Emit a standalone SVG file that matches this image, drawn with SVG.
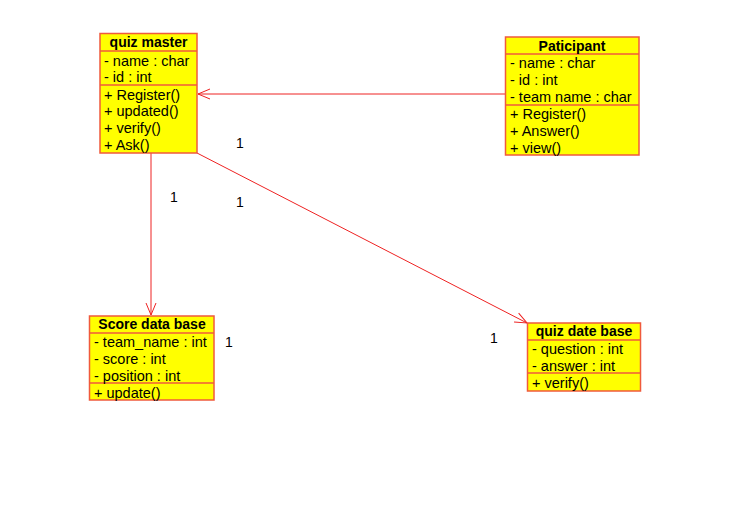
<svg xmlns="http://www.w3.org/2000/svg" width="754" height="517" viewBox="0 0 754 517">
<style>
.box{fill:#ffff00;stroke:#f05a3c;stroke-width:1.5}
.div{stroke:#f05a3c;stroke-width:1.5}
.t{font-family:"Liberation Sans",Arial,sans-serif;font-size:14.5px;fill:#000}
.b{font-weight:bold;text-anchor:middle;font-size:14px}
.c{stroke:#ee2222;stroke-width:1;fill:none}
.m{font-family:"Liberation Sans",Arial,sans-serif;font-size:14px;fill:#000}
</style>
<defs>
<marker id="arr" markerWidth="14" markerHeight="12" refX="13" refY="6" orient="auto" markerUnits="userSpaceOnUse">
<path d="M1,1 L13,6 L1,11" fill="none" stroke="#ee2222" stroke-width="1"/>
</marker>
</defs>
<rect width="754" height="517" fill="#fff"/>
<g id="connectors">
<line class="c" x1="505" y1="94" x2="198" y2="94" marker-end="url(#arr)"/>
<line class="c" x1="151" y1="153" x2="151" y2="315" marker-end="url(#arr)"/>
<line class="c" x1="197" y1="153" x2="527" y2="323" marker-end="url(#arr)"/>
</g>
<g id="quiz-master">
<rect class="box" x="100" y="33.5" width="97" height="119.5"/>
<line class="div" x1="100" y1="51" x2="197" y2="51"/>
<line class="div" x1="100" y1="85" x2="197" y2="85"/>
<text class="t b" x="148.5" y="47">quiz master</text>
<text class="t" x="104" y="65.5">- name : char</text>
<text class="t" x="104" y="82">- id : int</text>
<text class="t" x="104" y="99.5">+ Register()</text>
<text class="t" x="104" y="116">+ updated()</text>
<text class="t" x="104" y="133">+ verify()</text>
<text class="t" x="104" y="149.5">+ Ask()</text>
</g>
<g id="participant">
<rect class="box" x="505.5" y="37" width="133.5" height="118"/>
<line class="div" x1="505.5" y1="54" x2="639" y2="54"/>
<line class="div" x1="505.5" y1="105" x2="639" y2="105"/>
<text class="t b" x="572" y="50.5">Paticipant</text>
<text class="t" x="510" y="68">- name : char</text>
<text class="t" x="510" y="85">- id : int</text>
<text class="t" x="510" y="102">- team name : char</text>
<text class="t" x="510" y="119">+ Register()</text>
<text class="t" x="510" y="135.5">+ Answer()</text>
<text class="t" x="510" y="152.5">+ view()</text>
</g>
<g id="score-data-base">
<rect class="box" x="89.5" y="316" width="124.5" height="84"/>
<line class="div" x1="89.5" y1="333" x2="214" y2="333"/>
<line class="div" x1="89.5" y1="383" x2="214" y2="383"/>
<text class="t b" x="152" y="329">Score data base</text>
<text class="t" x="94" y="347">- team_name : int</text>
<text class="t" x="94" y="363.5">- score : int</text>
<text class="t" x="94" y="380.5">- position : int</text>
<text class="t" x="94" y="397.5">+ update()</text>
</g>
<g id="quiz-date-base">
<rect class="box" x="527.5" y="323" width="113" height="68"/>
<line class="div" x1="527.5" y1="340" x2="640.5" y2="340"/>
<line class="div" x1="527.5" y1="373" x2="640.5" y2="373"/>
<text class="t b" x="584" y="336">quiz date base</text>
<text class="t" x="532" y="354">- question : int</text>
<text class="t" x="532" y="370.5">- answer : int</text>
<text class="t" x="532" y="388">+ verify()</text>
</g>
<g id="labels">
<text class="m" x="236" y="148" fill="#400040">1</text>
<text class="m" x="170" y="202">1</text>
<text class="m" x="236" y="207" fill="#400040">1</text>
<text class="m" x="225" y="347">1</text>
<text class="m" x="490" y="343">1</text>
</g>
</svg>
